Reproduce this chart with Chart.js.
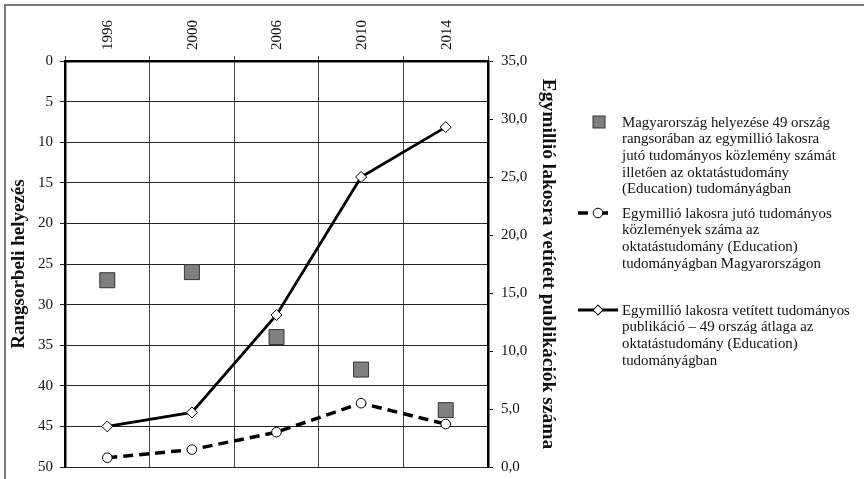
<!DOCTYPE html>
<html>
<head>
<meta charset="utf-8">
<script src="https://cdn.jsdelivr.net/npm/chart.js@4.4.1/dist/chart.umd.min.js"></script>
<style>
  html, body { margin: 0; padding: 0; background: #fff; }
  #wrap { position: relative; width: 864px; height: 479px; overflow: hidden; }
  #frame { position: absolute; left: 4px; top: 4px; width: 900px; height: 500px;
           border-top: 2px solid #7a7a7a; border-left: 2px solid #7a7a7a; }
  #c { position: absolute; left: 0; top: 0; }
  .leg { position: absolute; left: 578px; font-family: "Liberation Serif", "DejaVu Serif", serif;
         font-size: 14.9px; line-height: 16.7px; color: #111; }
  .leg .txt { position: absolute; left: 44px; top: 0; white-space: nowrap; }
  .leg svg { position: absolute; left: 0; top: -1px; }
</style>
</head>
<body>
<div id="wrap">
  <div id="frame"></div>
  <canvas id="c" width="864" height="479"></canvas>
  <div class="leg" style="top:113.6px;">
    <svg width="42" height="18"><rect x="15" y="3" width="12" height="12" fill="#808080" stroke="#333" stroke-width="1"/></svg>
    <div class="txt"></div>
  </div>
  <div class="leg" style="top:204.6px;">
    <svg width="42" height="18"><line x1="0" y1="9" x2="40" y2="9" stroke="#000" stroke-width="3.5" stroke-dasharray="10,10"/><circle cx="20" cy="9" r="4.8" fill="#fff" stroke="#000" stroke-width="1"/></svg>
    <div class="txt"></div>
  </div>
  <div class="leg" style="top:301.6px;">
    <svg width="42" height="18"><line x1="0" y1="9" x2="40" y2="9" stroke="#000" stroke-width="2.8"/><rect x="16.5" y="5.5" width="7" height="7" transform="rotate(45 20 9)" fill="#fff" stroke="#000" stroke-width="1"/></svg>
    <div class="txt"></div>
  </div>
</div>
<script>
const years = ["1996", "2000", "2006", "2010", "2014"];
const rankHungary = [27, 26, 34, 38, 43];
const pubsHungary = [0.8, 1.5, 3.0, 5.5, 3.7];
const pubsAverage = [3.5, 4.7, 13.1, 25.0, 29.3];
const leftTitle = "Rangsorbeli helyezés";
const rightTitle = "Egymillió lakosra vetített publikációk száma";
const legendTexts = [
  ["Magyarország helyezése 49 ország", "rangsorában az egymillió lakosra", "jutó tudományos közlemény számát", "illetően az oktatástudomány", "(Education) tudományágban"],
  ["Egymillió lakosra jutó tudományos", "közlemények száma az", "oktatástudomány (Education)", "tudományágban Magyarországon"],
  ["Egymillió lakosra vetített tudományos", "publikáció – 49 ország átlaga az", "oktatástudomány (Education)", "tudományágban"]
];

document.querySelectorAll('.leg .txt').forEach((el, i) => {
  el.innerHTML = legendTexts[i].map(s => s.replace(/&/g,'&amp;').replace(/</g,'&lt;')).join('<br>');
});

const FONT = "'Liberation Serif', 'DejaVu Serif', serif";

new Chart(document.getElementById('c'), {
  data: {
    labels: years,
    datasets: [
      {
        type: 'line', label: 'rank', data: rankHungary, yAxisID: 'yL', xAxisID: 'x',
        showLine: false, pointStyle: 'rect', pointRadius: 10.6, pointHoverRadius: 10.6,
        backgroundColor: '#808080', borderColor: '#333', pointBorderWidth: 1, order: 3
      },
      {
        type: 'line', label: 'hu', data: pubsHungary, yAxisID: 'yR', xAxisID: 'x',
        borderColor: '#000', borderWidth: 3.5, borderDash: [10, 6], tension: 0,
        pointStyle: 'circle', pointRadius: 4.8, pointBackgroundColor: '#fff',
        pointBorderColor: '#000', pointBorderWidth: 1, order: 2
      },
      {
        type: 'line', label: 'avg', data: pubsAverage, yAxisID: 'yR', xAxisID: 'x',
        borderColor: '#000', borderWidth: 2.8, tension: 0,
        pointStyle: 'rectRot', pointRadius: 5.5, pointBackgroundColor: '#fff',
        pointBorderColor: '#000', pointBorderWidth: 1, order: 1
      }
    ]
  },
  options: {
    responsive: false,
    animation: false,
    layout: { padding: { left: 0, top: 0, right: 301, bottom: 12 } },
    plugins: { legend: { display: false }, tooltip: { enabled: false } },
    scales: {
      x: {
        type: 'category', position: 'top', offset: true,
        grid: { offset: true, color: '#444', lineWidth: 1, drawTicks: true, tickLength: 5 },
        border: { color: '#000', width: 2.5 },
        ticks: { minRotation: 90, maxRotation: 90, padding: 6, labelOffset: 19, color: '#111',
                 font: { family: FONT, size: 15 } },
        afterFit: s => { s.height = 61; }
      },
      yL: {
        type: 'linear', position: 'left', reverse: true, min: 0, max: 50,
        ticks: { stepSize: 5, padding: 7, color: '#111', font: { family: FONT, size: 15 } },
        grid: { color: '#222', lineWidth: 1, tickLength: 5 },
        border: { color: '#000', width: 2.5 },
        title: { display: true, text: leftTitle, color: '#111', padding: { top: 8, bottom: 0 },
                 font: { family: FONT, size: 19, weight: 'bold' } },
        afterFit: s => { s.width = 65; s.paddingTop = 0; s.paddingBottom = 0; }
      },
      yR: {
        type: 'linear', position: 'right', min: 0, max: 35,
        ticks: { stepSize: 5, padding: 8, color: '#111', font: { family: FONT, size: 15 },
                 callback: v => v.toFixed(1).replace('.', ',') },
        grid: { drawOnChartArea: false, color: '#000', tickLength: 5 },
        border: { color: '#000', width: 2.5 },
        title: { display: true, text: rightTitle, color: '#111', padding: { top: 3, bottom: 0 },
                 font: { family: FONT, size: 19.5, weight: 'bold' } },
        afterFit: s => { s.width = 75; s.paddingTop = 0; s.paddingBottom = 0; }
      }
    }
  }
});
</script>
</body>
</html>
